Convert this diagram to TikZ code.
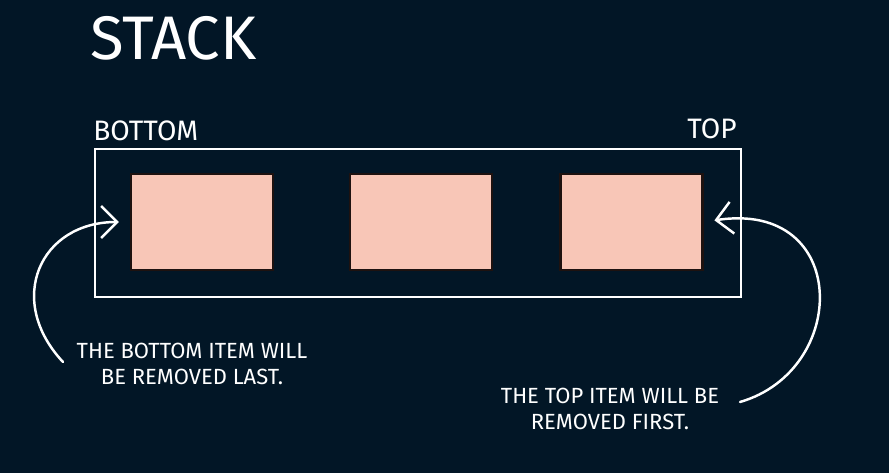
\documentclass[tikz,border=0pt]{standalone}
\usepackage{fontspec}
\setsansfont{Fira Sans}
\usetikzlibrary{arrows.meta,positioning}

\definecolor{bgnavy}{RGB}{2,22,38}
\definecolor{itempink}{RGB}{248,198,183}
\definecolor{itemedge}{RGB}{30,18,16}

\begin{document}
\begin{tikzpicture}[x=0.02cm, y=-0.02cm, >={Straight Barb[length=3.2mm,width=6.4mm]}]
        % Background and page size
        \fill[bgnavy] (0,0) rectangle (889,473);
        \useasboundingbox (0,0) rectangle (889,473);

        \tikzset{
          item/.style={fill=itempink, draw=itemedge, line width=1.2pt,
            minimum width=2.84cm, minimum height=1.92cm, inner sep=0pt},
          label/.style={white, font=\sffamily, inner sep=0pt},
          note/.style={white, font=\sffamily\fontsize{12.5}{15}\selectfont, align=center, inner sep=0pt},
          curved/.style={->, white, line width=1.4pt, line cap=round, shorten >=0.22cm}
        }

        % Stack frame
        \node[draw=white, line width=1.4pt, minimum width=12.92cm, minimum height=2.96cm,
          inner sep=0pt] (frame) at (418,223) {};

        % Stack items
        \node[item] (first) at (202,222) {};
        \node[item] (middle) at (421,222) {};
        \node[item] (last) at (631.5,222) {};

        % Titles
        \node[label, anchor=base west, font=\sffamily\fontsize{35}{40}\selectfont] (title) at (90,60) {STACK};
        \node[label, anchor=base west, font=\sffamily\fontsize{16}{19}\selectfont] (bottom) at (93,140) {BOTTOM};
        \node[label, anchor=base east, font=\sffamily\fontsize{16}{19}\selectfont] (top) at (737,138) {TOP};

        % Notes
        \node[note] (bnote) at (192,364) {THE BOTTOM ITEM WILL\\BE REMOVED LAST.};
        \node[note] (tnote) at (610,409) {THE TOP ITEM WILL BE\\REMOVED FIRST.};

        % Arrows from the notes
        \coordinate (bstart) at (63,362);
        \coordinate (tstart) at (740,402);
        \draw[curved] (bstart) .. controls (5,300) and (40,222) .. (first.west);
        \draw[curved] (tstart) .. controls (850,370) and (850,200) .. (last.east);
\end{tikzpicture}
\end{document}
